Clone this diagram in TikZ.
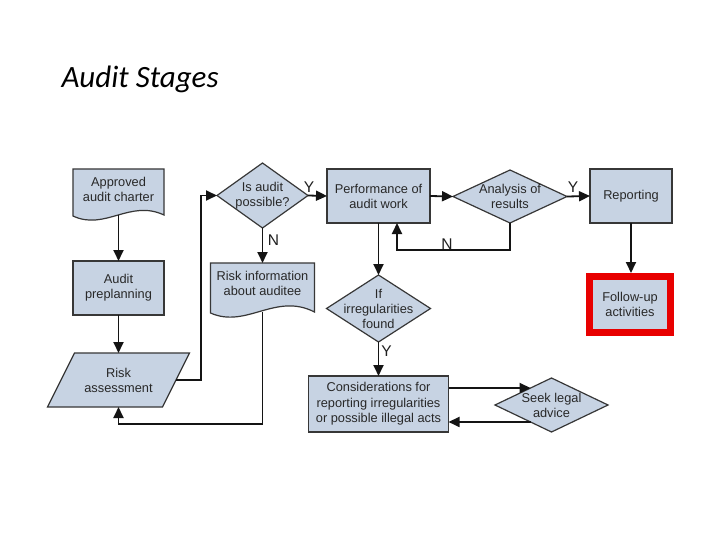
\documentclass[tikz,border=0pt]{standalone}
\usepackage{fontspec}
\setmainfont{Liberation Sans}
\newfontfamily\titlefont{Carlito}
\usetikzlibrary{shapes.geometric,arrows.meta,backgrounds}
\definecolor{boxfill}{RGB}{199,211,227}
\definecolor{boxline}{RGB}{55,55,55}
\definecolor{txt}{RGB}{40,40,40}
\definecolor{hired}{RGB}{232,0,0}
\tikzset{
 base/.style={font=\fontsize{12.8}{15}\selectfont, text=txt, align=center, inner sep=0pt, outer sep=0pt},
 procbox/.style={base, rectangle, draw=boxline, fill=boxfill, line width=1.2pt},
 ghost/.style={base, rectangle},
 decision/.style={diamond, draw=boxline, fill=boxfill, line width=1.2pt, inner sep=0pt, outer sep=0pt},
 dlabel/.style={base},
 shapeline/.style={draw=boxline, fill=boxfill, line width=1.2pt},
 arr/.style={draw=black!92, line width=1.8pt, -{Triangle[length=11pt,width=10pt]}},
 yn/.style={font=\fontsize{15.5}{17}\selectfont, text=black!88, inner sep=0pt},
}
\begin{document}
\begin{tikzpicture}[x=1pt,y=1pt]
\useasboundingbox (0,0) rectangle (720,-540);
\node[anchor=base west, font=\titlefont\itshape\fontsize{31}{33}\selectfont] (title) at (58,-88) {Audit Stages};

% left column
\node[ghost, minimum width=91, minimum height=41] (charter) at (118.5,-189.5) {Approved\\audit charter};
\node[procbox, minimum width=91, minimum height=54] (pre) at (118.5,-288) {Audit\\preplanning};
\node[ghost, minimum width=115, minimum height=54] (risk) at (118.5,-380) {Risk\\assessment};

% second column
\node[decision, minimum width=91, minimum height=65, label={[dlabel]center:Is audit\\possible?}] (isaudit) at (262.5,-195.5) {};
\node[ghost, minimum width=104, minimum height=41] (riskinfo) at (262.5,-283.5) {Risk information\\about auditee};

% third column
\node[procbox, minimum width=103, minimum height=54] (perf) at (378.5,-196) {Performance of\\audit work};
\node[decision, minimum width=104, minimum height=67, label={[dlabel]center:If\\irregularities\\found}] (ifirr) at (378.5,-308.5) {};
\node[procbox, minimum width=140, minimum height=56, font=\fontsize{12.8}{15.5}\selectfont] (consid) at (378.5,-404) {Considerations for\\reporting irregularities\\or possible illegal acts};

% right part
\node[decision, minimum width=114, minimum height=53, label={[dlabel]center:Analysis of\\results}] (analysis) at (510,-196.5) {};
\node[procbox, minimum width=82, minimum height=54] (report) at (631,-196) {Reporting};
\node[base, rectangle, draw=hired, fill=boxfill, line width=7pt, outer sep=3.5pt, minimum width=81, minimum height=56] (follow) at (630,-304.5) {Follow-up\\activities};
\node[decision, minimum width=113, minimum height=54, label={[dlabel]center:Seek legal\\advice}] (seek) at (551.5,-405) {};

% shapes drawn behind
\begin{scope}[on background layer]
\fill[white] (0,0) rectangle (720,-540);
\draw[shapeline] (charter.north west) -- (charter.north east) -- ([yshift=-5]charter.south east)
  .. controls ([xshift=-34,yshift=11]charter.south east) and ([xshift=32,yshift=-21]charter.south west) .. ([yshift=-6]charter.south west) -- cycle;
\draw[shapeline] (riskinfo.north west) -- (riskinfo.north east) -- ([yshift=-8]riskinfo.south east)
  .. controls ([xshift=-39,yshift=12]riskinfo.south east) and ([xshift=36,yshift=-25]riskinfo.south west) .. ([yshift=-9]riskinfo.south west) -- cycle;
\draw[shapeline] ([xshift=13.5]risk.north west) -- ([xshift=13.5]risk.north east) -- ([xshift=-13.5]risk.south east) -- ([xshift=-13.5]risk.south west) -- cycle;
\end{scope}

% connectors
\draw[arr] ([yshift=-5]charter.south) -- (pre.north);
\draw[arr] (pre.south) -- (risk.north);
\draw[arr] (risk.east) -- ++(25,0) |- (isaudit.west);
\draw[arr] (isaudit.east) -- (perf.west);
\draw[arr] (isaudit.south) -- (riskinfo.north);
\draw[arr] ([yshift=-8]riskinfo.south) |- ([yshift=-17]risk.south) -- (risk.south);
\draw[arr] (perf.east) -- (analysis.west);
\draw[arr] (analysis.east) -- (report.west);
\draw[arr] (analysis.south) |- ([xshift=18.5,yshift=-27]perf.south) -- ([xshift=18.5]perf.south);
\draw[arr] (perf.south) -- (ifirr.north);
\draw[arr] (ifirr.south) -- (consid.north);
\draw[arr] (report.south) -- (report.south |- follow.north);
\draw[arr] ([yshift=16]consid.east) -- ([yshift=16]consid.east -| seek.141);
\draw[arr] (seek.219) -- (seek.219 -| consid.east);

% Y / N labels
\node[yn] (y1) at (309,-187) {Y};
\node[yn] (n1) at (273.5,-240) {N};
\node[yn] (y2) at (573,-187) {Y};
\node[yn] (n2) at (447,-244) {N};
\node[yn] (y3) at (386.5,-351) {Y};
\end{tikzpicture}
\end{document}
